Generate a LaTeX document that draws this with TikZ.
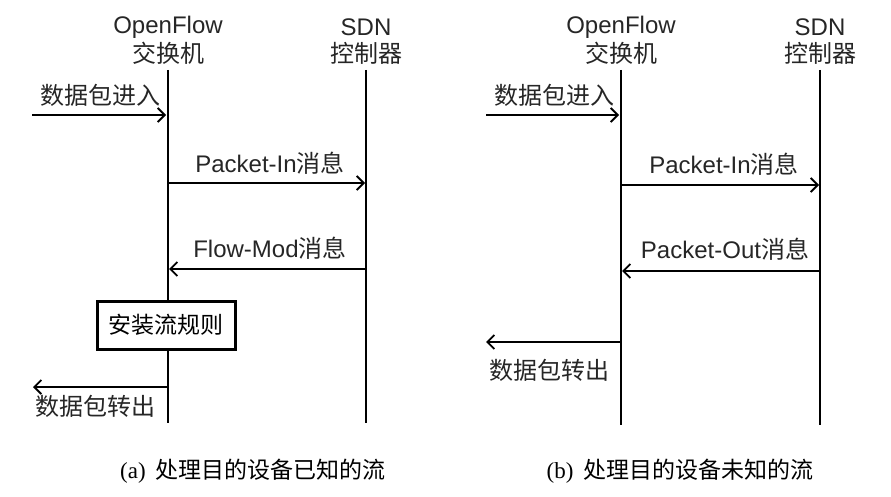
\documentclass[tikz,border=0pt]{standalone}
\usepackage{fontspec}
\setmainfont{Liberation Sans}
\newfontfamily\cjk{Noto Sans CJK SC}
\newfontfamily\capserif{Liberation Serif}
\usetikzlibrary{arrows.meta}
\begin{document}
\begin{tikzpicture}[x=1pt,y=-1pt,
  lbl/.style={inner sep=0pt,font=\fontsize{24}{26}\selectfont,text=black!85},
  captxt/.style={inner sep=0pt,font=\fontsize{23}{26}\selectfont,text=black},
  life/.style={line width=2pt},
  msg/.style={line width=1.8pt,-{Straight Barb[length=7pt,width=14pt,line width=1.8pt]}},
  rulebox/.style={draw,line width=3pt,minimum width=138pt,minimum height=48pt,inner sep=0pt,font=\fontsize{23}{26}\selectfont}]
\path[use as bounding box] (0,0) rectangle (891,497);
% ---------- panel (a) ----------
\node[lbl] (hsw1) at (168,27) {OpenFlow};
\node[lbl] (hsw1b) at (168,53) {\cjk 交换机};
\node[lbl] (hct1) at (366,27) {SDN};
\node[lbl] (hct1b) at (366,53) {\cjk 控制器};
\coordinate (s1top) at (168,70); \coordinate (s1bot) at (168,423);
\coordinate (c1top) at (366,70); \coordinate (c1bot) at (366,423);
\draw[life] (s1top) -- (s1bot);
\draw[life] (c1top) -- (c1bot);
\node[lbl] (in1) at (100,95) {\cjk 数据包进入};
\coordinate (in1s) at (32,115); \coordinate (in1e) at (166,115);
\draw[msg] (in1s) -- (in1e);
\node[lbl] (pi1) at (270,163) {Packet-In\cjk 消息};
\coordinate (pi1s) at (168,183); \coordinate (pi1e) at (365,183);
\draw[msg] (pi1s) -- (pi1e);
\node[lbl] (fm1) at (270,248) {Flow-Mod\cjk 消息};
\coordinate (fm1s) at (366,269); \coordinate (fm1e) at (169,269);
\draw[msg] (fm1s) -- (fm1e);
\node[rulebox,fill=white] (rule) at (166,325) {\cjk 安装流规则};
\coordinate (out1s) at (168,387); \coordinate (out1e) at (33,387);
\draw[msg] (out1s) -- (out1e);
\node[lbl] (out1) at (95,406) {\cjk 数据包转出};
\node[captxt] (capa) at (253,471) {{\capserif (a)}\hspace{10pt}{\cjk 处理目的设备已知的流}};
% ---------- panel (b) ----------
\node[lbl] (hsw2) at (621,27) {OpenFlow};
\node[lbl] (hsw2b) at (621,53) {\cjk 交换机};
\node[lbl] (hct2) at (820,27) {SDN};
\node[lbl] (hct2b) at (820,53) {\cjk 控制器};
\coordinate (s2top) at (621,70); \coordinate (s2bot) at (621,425);
\coordinate (c2top) at (820,70); \coordinate (c2bot) at (820,425);
\draw[life] (s2top) -- (s2bot);
\draw[life] (c2top) -- (c2bot);
\node[lbl] (in2) at (554,95) {\cjk 数据包进入};
\coordinate (in2s) at (486,115); \coordinate (in2e) at (619,115);
\draw[msg] (in2s) -- (in2e);
\node[lbl] (pi2) at (724,164) {Packet-In\cjk 消息};
\coordinate (pi2s) at (621,185); \coordinate (pi2e) at (819,185);
\draw[msg] (pi2s) -- (pi2e);
\node[lbl] (po2) at (725,249) {Packet-Out\cjk 消息};
\coordinate (po2s) at (820,271); \coordinate (po2e) at (622,271);
\draw[msg] (po2s) -- (po2e);
\coordinate (out2s) at (621,342); \coordinate (out2e) at (486,342);
\draw[msg] (out2s) -- (out2e);
\node[lbl] (out2) at (549,370) {\cjk 数据包转出};
\node[captxt] (capb) at (680,471) {{\capserif (b)}\hspace{10pt}{\cjk 处理目的设备未知的流}};
\end{tikzpicture}
\end{document}
